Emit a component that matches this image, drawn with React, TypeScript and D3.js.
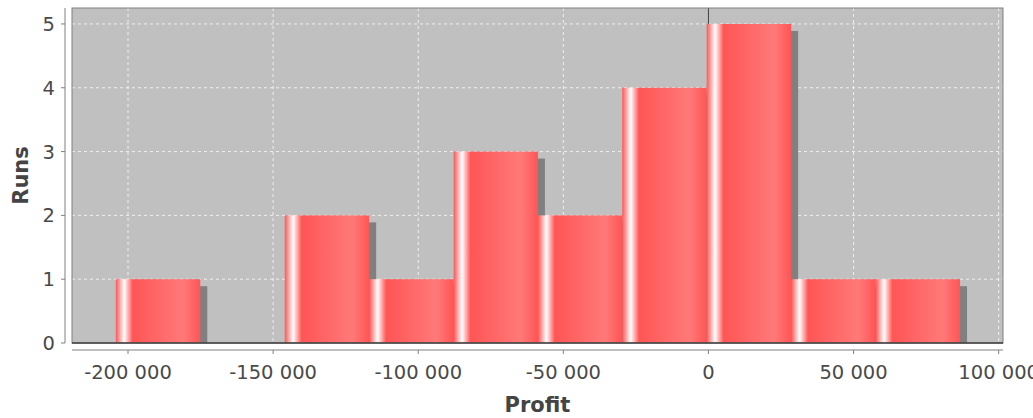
import React from "react";
import * as d3 from "d3";

const binEdges = [-204200, -175100, -146000, -116900, -87800, -58750, -29700, -600, 28500, 57600, 86700];
const counts = [1, 0, 2, 1, 3, 2, 4, 5, 1, 1];
const xTicks = [-200000, -150000, -100000, -50000, 0, 50000, 100000];
const yTicks = [0, 1, 2, 3, 4, 5];
const xLabel = "Profit";
const yLabel = "Runs";

const W = 1033;
const H = 418;
const plot = { left: 72, right: 1003, top: 8, bottom: 343 };

const fmt = (v: number) => {
  const s = d3.format(",")(Math.abs(v)).replace(/,/g, " ");
  return (v < 0 ? "-" : "") + s;
};

export default function App() {
  const x = d3.scaleLinear().domain([-219300, 101500]).range([plot.left, plot.right]);
  const y = d3.scaleLinear().domain([0, 5.25]).range([plot.bottom, plot.top]);
  const c0 = "rgb(255,85,85)";
  const c1 = "rgb(255,121,121)";
  const bars = counts.map((c, i) => ({ x0: binEdges[i], x1: binEdges[i + 1], c }));
  const font = "'DejaVu Sans', Verdana, sans-serif";
  const shadow = 7;
  const tickFill = "#4a4a4a";
  return (
    <div style={{ position: "fixed", left: 0, top: 0 }}>
      <svg width={W} height={H} style={{ display: "block" }}>
        <defs>
          <linearGradient id="barGrad" x1="0" x2="1" y1="0" y2="0">
            <stop offset="0" stopColor={c0} />
            <stop offset="0.1" stopColor="#ffffff" />
            <stop offset="0.2" stopColor={c0} />
            <stop offset="0.8" stopColor={c1} />
            <stop offset="1" stopColor={c0} />
          </linearGradient>
          <clipPath id="plotClip">
            <rect x={plot.left} y={plot.top} width={plot.right - plot.left} height={plot.bottom - plot.top} />
          </clipPath>
        </defs>
        <rect x={0} y={0} width={W} height={H} fill="#ffffff" />
        <rect x={plot.left} y={plot.top} width={plot.right - plot.left} height={plot.bottom - plot.top} fill="#c0c0c0" />
        <g clipPath="url(#plotClip)">
          {xTicks.filter((t) => t !== 0).map((t) => (
            <line key={"gx" + t} x1={x(t)} x2={x(t)} y1={plot.top} y2={plot.bottom} stroke="#ffffff" strokeOpacity={0.75} strokeWidth={1} strokeDasharray="3,3" />
          ))}
          {yTicks.filter((t) => t !== 0).map((t) => (
            <line key={"gy" + t} x1={plot.left} x2={plot.right} y1={y(t)} y2={y(t)} stroke="#ffffff" strokeOpacity={0.75} strokeWidth={1} strokeDasharray="3,3" />
          ))}
          <line x1={x(0)} x2={x(0)} y1={plot.top} y2={plot.bottom} stroke="#404040" strokeWidth={1} />
          {bars.filter((b) => b.c > 0).map((b, i) => (
            <rect key={"s" + i} x={x(b.x0) + shadow} y={y(b.c) + shadow} width={x(b.x1) - x(b.x0)} height={Math.max(0, y(0) - y(b.c) - shadow)} fill="#808080" />
          ))}
          {bars.filter((b) => b.c > 0).map((b, i) => (
            <rect key={"b" + i} x={x(b.x0)} y={y(b.c)} width={x(b.x1) - x(b.x0)} height={y(0) - y(b.c)} fill="url(#barGrad)" />
          ))}
        </g>
        <rect x={plot.left} y={plot.top} width={plot.right - plot.left} height={plot.bottom - plot.top} fill="none" stroke="#808080" strokeWidth={1} />
        <line x1={plot.left} x2={plot.right} y1={y(0)} y2={y(0)} stroke="#404040" strokeWidth={1.5} />
        {/* x axis */}
        <line x1={plot.left} x2={plot.right} y1={350} y2={350} stroke="#808080" strokeWidth={1} />
        {xTicks.map((t) => (
          <g key={"xt" + t}>
            <line x1={x(t)} x2={x(t)} y1={350} y2={354} stroke="#808080" strokeWidth={1} />
            <text x={x(t)} y={379} textAnchor="middle" fontFamily={font} fontSize={19.5} fill={tickFill}>{fmt(t)}</text>
          </g>
        ))}
        <text x={(plot.left + plot.right) / 2} y={412} textAnchor="middle" fontFamily={font} fontSize={21} fontWeight="bold" fill="#444444">{xLabel}</text>
        {/* y axis */}
        <line x1={65} x2={65} y1={plot.top} y2={plot.bottom} stroke="#808080" strokeWidth={1} />
        {yTicks.map((t) => (
          <g key={"yt" + t}>
            <line x1={61} x2={65} y1={y(t)} y2={y(t)} stroke="#808080" strokeWidth={1} />
            <text x={55} y={y(t)} dy="0.36em" textAnchor="end" fontFamily={font} fontSize={19.5} fill={tickFill}>{t}</text>
          </g>
        ))}
        <text transform={`translate(28,${(plot.top + plot.bottom) / 2}) rotate(-90)`} textAnchor="middle" fontFamily={font} fontSize={21} fontWeight="bold" fill="#444444">{yLabel}</text>
      </svg>
    </div>
  );
}
